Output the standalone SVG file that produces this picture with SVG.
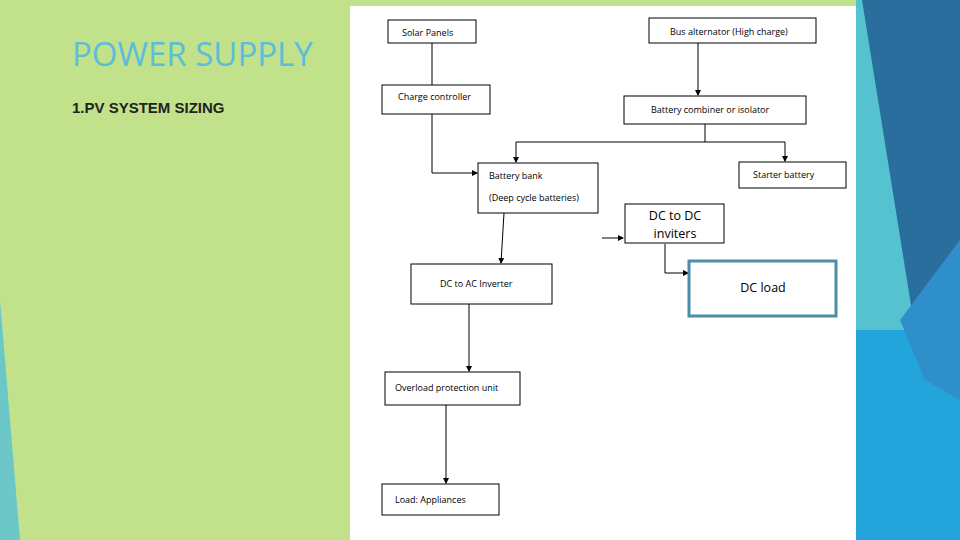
<svg xmlns="http://www.w3.org/2000/svg" width="960" height="540" viewBox="0 0 960 540">
<defs>
<style>
.b{fill:#fff;stroke:#000;stroke-width:1}
.t{font-family:"Open Sans","Liberation Sans",sans-serif;font-size:9px;fill:#000}
.c{fill:none;stroke:#000;stroke-width:1}
</style>
<marker id="a" markerWidth="6" markerHeight="6" refX="5" refY="3" orient="auto" markerUnits="userSpaceOnUse"><path d="M0,0 L6,3 L0,6Z" fill="#000"/></marker>
</defs>
<rect width="960" height="540" fill="#c1e28a"/>
<polygon points="0,300 20,540 0,540" fill="#6cc7c9"/>
<polygon points="856,0 960,0 960,540 856,540" fill="#55c2cf"/>
<polygon points="862,0 960,0 960,390 915,330" fill="#2a6e9e"/>
<polygon points="856,330 915,330 960,390 960,540 856,540" fill="#23a5dc"/>
<polygon points="900,320 960,240 960,400 925,380" fill="#2f8fca"/>
<rect x="350" y="6" width="506" height="534" fill="#fff"/>
<text x="72" y="66" font-family="Open Sans,Liberation Sans,sans-serif" font-size="33" fill="#5bbdd9">POWER SUPPLY</text>
<text x="72" y="113" font-family="Liberation Sans,sans-serif" font-size="15" font-weight="bold" fill="#222">1.PV SYSTEM SIZING</text>
<g id="connectors">
<line class="c" x1="432" y1="43" x2="432" y2="85" stroke="#888"/>
<polyline class="c" stroke="#888" points="432,114 432,173 477,173" marker-end="url(#a)"/>
<line class="c" x1="698" y1="43" x2="698" y2="95" marker-end="url(#a)"/>
<polyline class="c" points="705,124 705,142 516,142 516,162" marker-end="url(#a)"/>
<polyline class="c" points="705,142 785,142 785,161" marker-end="url(#a)"/>
<line class="c" x1="504" y1="213" x2="501" y2="263" marker-end="url(#a)"/>
<line class="c" x1="602" y1="238" x2="623" y2="238" stroke-width="2" marker-end="url(#a)"/>
<polyline class="c" stroke-width="2" points="665,244 665,273 688,273" marker-end="url(#a)"/>
<line class="c" x1="469" y1="304" x2="469" y2="371" marker-end="url(#a)"/>
<line class="c" x1="446" y1="405" x2="446" y2="483" marker-end="url(#a)"/>
</g>
<g id="solar"><rect class="b" x="388" y="20" width="88" height="23" stroke="#555"/><text class="t" x="402" y="36">Solar Panels</text></g>
<g id="bus"><rect class="b" x="649" y="18" width="167" height="25" stroke="#555"/><text class="t" x="670" y="35">Bus alternator (High charge)</text></g>
<g id="charge"><rect class="b" x="382" y="85" width="108" height="29"/><text class="t" x="398" y="100">Charge controller</text></g>
<g id="combiner"><rect class="b" x="624" y="96" width="182" height="28"/><text class="t" x="651" y="113">Battery combiner or isolator</text></g>
<g id="bank"><rect class="b" x="478" y="163" width="120" height="50" stroke-width="1.5"/><text class="t" x="489" y="179">Battery bank</text><text class="t" x="489" y="201">(Deep cycle batteries)</text></g>
<g id="starter"><rect class="b" x="739" y="162" width="107" height="26"/><text class="t" x="753" y="178">Starter battery</text></g>
<g id="dcdc"><rect class="b" x="625" y="204" width="99" height="39" stroke-width="3"/><text x="675" y="220" text-anchor="middle" font-family="Open Sans,Liberation Sans,sans-serif" font-size="12.5">DC to DC</text><text x="675" y="238" text-anchor="middle" font-family="Open Sans,Liberation Sans,sans-serif" font-size="12.5">inviters</text></g>
<g id="dcload"><rect x="689" y="261" width="147" height="55" fill="#fff" stroke="#4b8ea8" stroke-width="3"/><text x="763" y="292" text-anchor="middle" font-family="Open Sans,Liberation Sans,sans-serif" font-size="12.5">DC load</text></g>
<g id="inverter"><rect class="b" x="411" y="264" width="141" height="40" stroke-width="1.5"/><text class="t" x="440" y="287">DC to AC Inverter</text></g>
<g id="overload"><rect class="b" x="385" y="372" width="135" height="33"/><text class="t" x="395" y="391">Overload protection unit</text></g>
<g id="load"><rect class="b" x="382" y="484" width="117" height="31"/><text class="t" x="395" y="503">Load: Appliances</text></g>
</svg>
